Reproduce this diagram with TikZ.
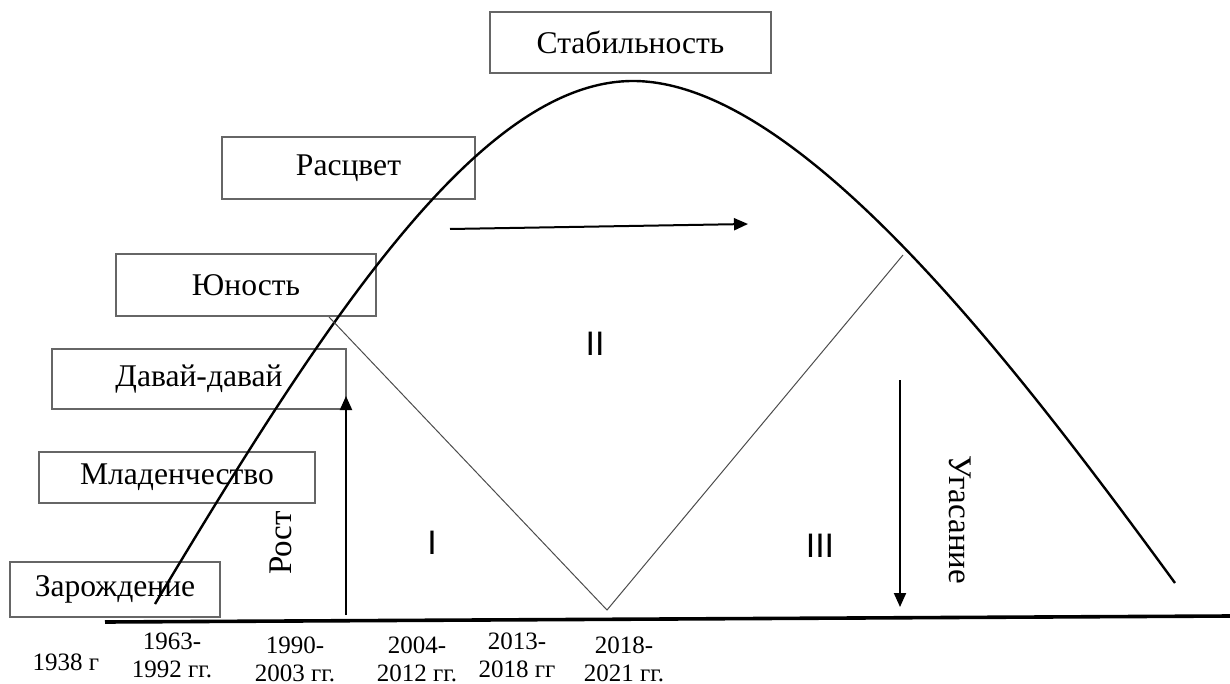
\documentclass[tikz,border=0pt]{standalone}
\usepackage{fontspec}
\setmainfont{Liberation Serif}
\newfontfamily\numfont{Liberation Sans}
\usetikzlibrary{arrows.meta}

\tikzset{
	stage/.style={draw=black!60, line width=1pt, inner sep=0pt, minimum height=30pt,
		font=\fontsize{15.8}{18}\selectfont},
	year/.style={align=center, inner sep=0pt, font=\fontsize{12.5}{14}\selectfont},
	zone/.style={font=\numfont\fontsize{17}{20}\selectfont},
	move/.style={line width=1pt, -{Triangle[length=7pt,width=6pt]}}
}

\begin{document}
\begin{tikzpicture}[x=0.5pt,y=-0.5pt]
		\useasboundingbox (0,0) rectangle (1230,684);
		
		% Stage boxes
		\node[stage, minimum width=105pt, minimum height=27.5pt] (zar) at (115,589.5) {Зарождение};
		\node[stage, minimum width=138pt, minimum height=25.5pt] (mlad) at (177,477.5) {Младенчество};
		\node[stage, minimum width=147pt] (dav) at (199,379) {Давай-давай};
		\node[stage, minimum width=130pt, minimum height=31pt] (yun) at (246,285) {Юность};
		\node[stage, minimum width=126.5pt, minimum height=31pt] (ras) at (348.5,168) {Расцвет};
		\node[stage, minimum width=140.5pt, minimum height=30.5pt] (stab) at (630.5,42.5) {Стабильность};
		
		% Time axis
		\coordinate (axL) at (105,622);
		\coordinate (axR) at (1230,616);
		\draw[line width=1.8pt] (axL) -- (axR);
		
		% Life cycle curve
		\coordinate (start) at (155,604);
		\coordinate (top) at (633,81);
		\coordinate (end) at (1175,583);
		\draw[line width=1.2pt] (start) .. controls (325,320) and (480,81) .. (top)
			.. controls (800,81) and (1017,367) .. (end);
		
		% Zones I, II, III
		\coordinate (v1) at (329,317);
		\coordinate (v2) at (607,610);
		\coordinate (v3) at (903,255);
		\draw[black!70, line width=0.5pt] (v1) -- (v2) -- (v3);
		\node[zone] (z1) at (432,543) {I};
		\node[zone] (z2) at (595,344) {II};
		\node[zone] (z3) at (820,546) {III};
		
		% Arrows
		\coordinate (r0) at (346,615);
		\coordinate (r1) at (346,396);
		\draw[move] (r0) -- (r1);
		\node[rotate=90, font=\fontsize{16.5}{18}\selectfont] (rost) at (281,543) {Рост};
		
		\coordinate (g0) at (900,380);
		\coordinate (g1) at (900,607);
		\draw[move] (g0) -- (g1);
		\node[rotate=-90, font=\fontsize{16.5}{18}\selectfont] (ugas) at (960,520) {Угасание};
		
		\coordinate (h0) at (450,229);
		\coordinate (h1) at (748,224);
		\draw[move] (h0) -- (h1);
		
		% Years
		\node[year] (y1) at (66,662) {1938 г};
		\node[year] (y2) at (172,655) {1963-\\1992 гг.};
		\node[year] (y3) at (295,659) {1990-\\2003 гг.};
		\node[year] (y4) at (417,659) {2004-\\2012 гг.};
		\node[year] (y5) at (517,655) {2013-\\2018 гг};
		\node[year] (y6) at (624,659) {2018-\\2021 гг.};
	\end{tikzpicture}
\end{document}
